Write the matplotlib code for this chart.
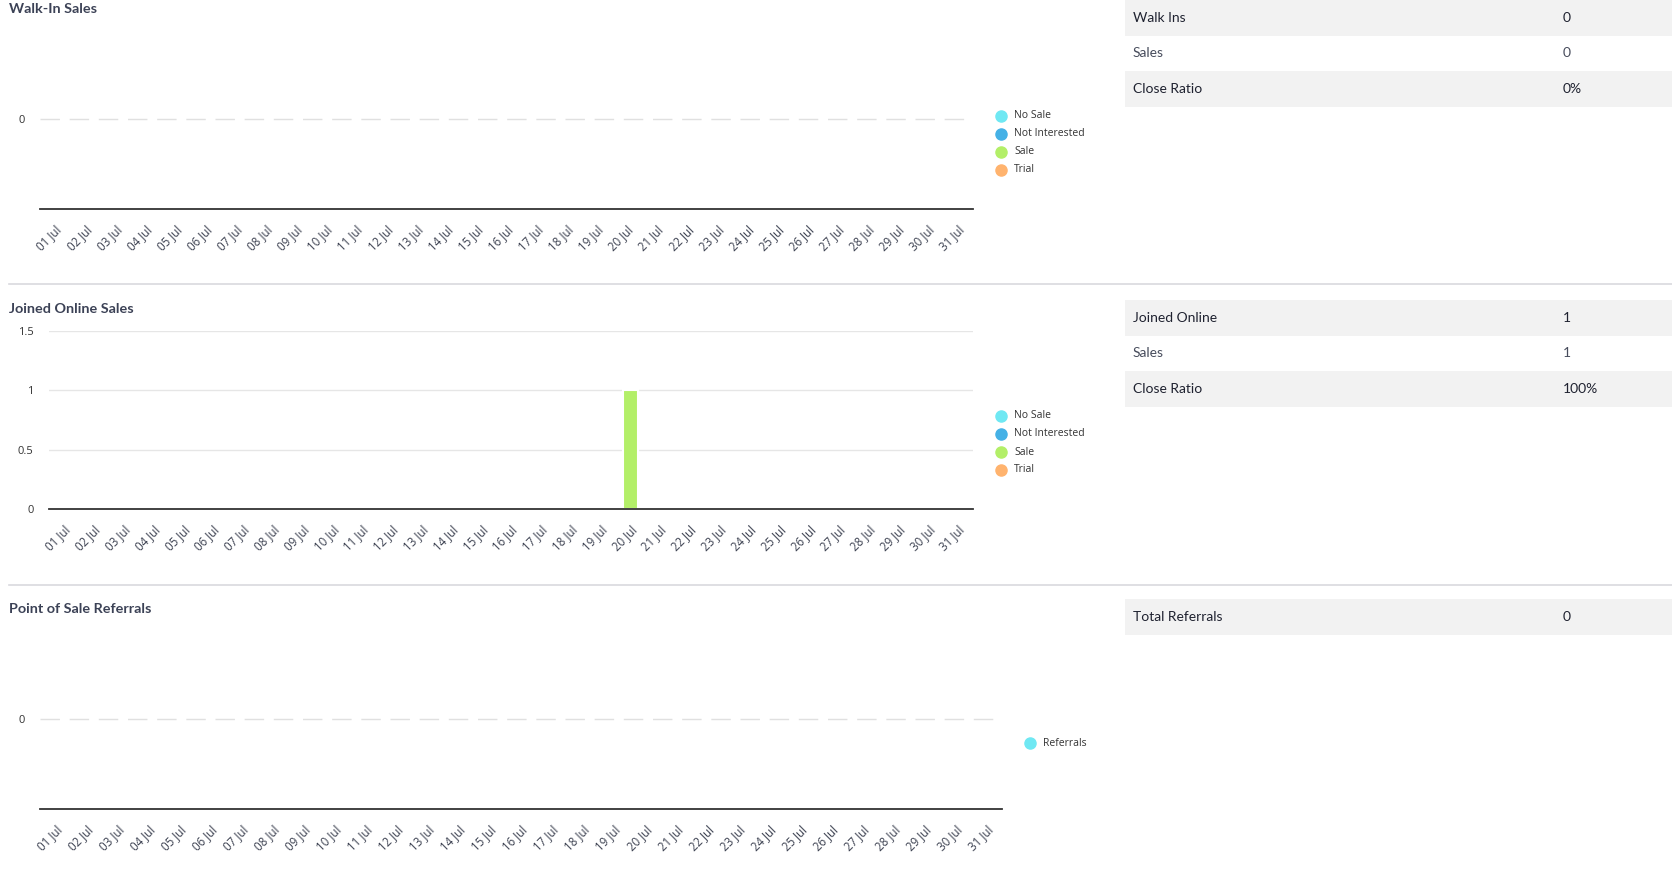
import matplotlib.pyplot as plt
from matplotlib.lines import Line2D
from matplotlib.patches import Rectangle

plt.rcParams['font.family'] = ['Lato', 'DejaVu Sans']

W, H = 1672, 883

days = ['01 Jul', '02 Jul', '03 Jul', '04 Jul', '05 Jul', '06 Jul', '07 Jul', '08 Jul',
        '09 Jul', '10 Jul', '11 Jul', '12 Jul', '13 Jul', '14 Jul', '15 Jul', '16 Jul',
        '17 Jul', '18 Jul', '19 Jul', '20 Jul', '21 Jul', '22 Jul', '23 Jul', '24 Jul',
        '25 Jul', '26 Jul', '27 Jul', '28 Jul', '29 Jul', '30 Jul', '31 Jul']

outcomes = ['No Sale', 'Not Interested', 'Sale', 'Trial']
outcome_colors = ['#6fe8f3', '#45b1e6', '#b3ef68', '#ffb36e']

walkin_no_sale = [0, 0, 0, 0, 0, 0, 0, 0, 0, 0, 0, 0, 0, 0, 0, 0, 0, 0, 0, 0, 0, 0, 0, 0, 0, 0, 0, 0, 0, 0, 0]
walkin_not_interested = [0, 0, 0, 0, 0, 0, 0, 0, 0, 0, 0, 0, 0, 0, 0, 0, 0, 0, 0, 0, 0, 0, 0, 0, 0, 0, 0, 0, 0, 0, 0]
walkin_sale = [0, 0, 0, 0, 0, 0, 0, 0, 0, 0, 0, 0, 0, 0, 0, 0, 0, 0, 0, 0, 0, 0, 0, 0, 0, 0, 0, 0, 0, 0, 0]
walkin_trial = [0, 0, 0, 0, 0, 0, 0, 0, 0, 0, 0, 0, 0, 0, 0, 0, 0, 0, 0, 0, 0, 0, 0, 0, 0, 0, 0, 0, 0, 0, 0]

online_no_sale = [0, 0, 0, 0, 0, 0, 0, 0, 0, 0, 0, 0, 0, 0, 0, 0, 0, 0, 0, 0, 0, 0, 0, 0, 0, 0, 0, 0, 0, 0, 0]
online_not_interested = [0, 0, 0, 0, 0, 0, 0, 0, 0, 0, 0, 0, 0, 0, 0, 0, 0, 0, 0, 0, 0, 0, 0, 0, 0, 0, 0, 0, 0, 0, 0]
online_sale = [0, 0, 0, 0, 0, 0, 0, 0, 0, 0, 0, 0, 0, 0, 0, 0, 0, 0, 0, 1, 0, 0, 0, 0, 0, 0, 0, 0, 0, 0, 0]
online_trial = [0, 0, 0, 0, 0, 0, 0, 0, 0, 0, 0, 0, 0, 0, 0, 0, 0, 0, 0, 0, 0, 0, 0, 0, 0, 0, 0, 0, 0, 0, 0]

referrals = [0, 0, 0, 0, 0, 0, 0, 0, 0, 0, 0, 0, 0, 0, 0, 0, 0, 0, 0, 0, 0, 0, 0, 0, 0, 0, 0, 0, 0, 0, 0]
referral_color = '#6fe8f3'

walkin_table = [('Walk Ins', '0'), ('Sales', '0'), ('Close Ratio', '0%')]
online_table = [('Joined Online', '1'), ('Sales', '1'), ('Close Ratio', '100%')]
referral_table = [('Total Referrals', '0')]

TITLE_COLOR = '#3c4256'
TICK_COLOR = '#3a3f4f'
SMALL_FONT = ['Open Sans', 'DejaVu Sans']


def fx(x):
    return x / W


def fy(y):
    return 1 - y / H


def make_axes(fig, left, right, top, bottom):
    return fig.add_axes([fx(left), fy(bottom), (right - left) / W, (bottom - top) / H])


def style_axes(ax, dashed):
    for side in ['top', 'right', 'left']:
        ax.spines[side].set_visible(False)
    ax.spines['bottom'].set_color('#333333')
    ax.spines['bottom'].set_linewidth(1.3)
    ax.spines['bottom'].set_zorder(4)
    ax.set_xlim(-0.5, len(days) - 0.5)
    ax.set_xticks(range(len(days)))
    ax.set_xticklabels(days, rotation=45, ha='right', va='top', rotation_mode='anchor',
                       fontsize=8.3, color=TICK_COLOR, family=SMALL_FONT)
    for label in ax.get_yticklabels():
        label.set_family(SMALL_FONT)
    ax.tick_params(axis='both', length=0)
    ax.tick_params(axis='x', pad=10)
    ax.tick_params(axis='y', pad=11, labelsize=8, labelcolor='#333333')
    if dashed:
        ax.yaxis.grid(True, color='#e0e0e0', linewidth=1, linestyle=(0, (14, 7)))
    else:
        ax.yaxis.grid(True, color='#e6e6e6', linewidth=1)
    ax.set_axisbelow(True)


def stacked_bars(ax, series, colors):
    bottom = [0] * len(days)
    for values, color in zip(series, colors):
        # only bars with a height get drawn, so empty days leave the grid untouched
        idx = [i for i, v in enumerate(values) if v]
        if idx:
            ax.bar(idx, [values[i] for i in idx], bottom=[bottom[i] for i in idx], width=0.5,
                   color=color, edgecolor='white', linewidth=1.5, zorder=3)
        bottom = [b + v for b, v in zip(bottom, values)]


def draw_legend(fig, labels, colors, x, y0, step=18):
    for i, (label, color) in enumerate(zip(labels, colors)):
        y = y0 + i * step
        fig.add_artist(Line2D([fx(x)], [fy(y)], marker='o', markersize=8,
                              color=color, linestyle='none'))
        fig.text(fx(x + 13), fy(y), label, fontsize=7.5, color='#333333', va='center',
                 family=SMALL_FONT)


def draw_table(fig, rows, top, row_h=35.5):
    for i, (label, value) in enumerate(rows):
        y = top + i * row_h
        color = '#1f2230'
        if i % 2 == 0:
            fig.add_artist(Rectangle((fx(1125), fy(y + row_h)), (1672 - 1125) / W, row_h / H,
                                     facecolor='#f2f2f2', edgecolor='none',
                                     transform=fig.transFigure))
        else:
            color = '#474c5c'
        fig.text(fx(1133), fy(y + row_h / 2), label, fontsize=10, color=color, va='center')
        fig.text(fx(1563), fy(y + row_h / 2), value, fontsize=10, color=color, va='center')


def divider(fig, y):
    fig.add_artist(Line2D([fx(9), fx(1672)], [fy(y), fy(y)], color='#d9d9de', linewidth=1.2))


def main():
    fig = plt.figure(figsize=(W / 100, H / 100), dpi=100)
    fig.patch.set_facecolor('white')

    # Walk-In Sales
    fig.text(fx(9), fy(9), 'Walk-In Sales', fontsize=10.4, fontweight='bold',
             color=TITLE_COLOR, va='center')
    ax1 = make_axes(fig, 40, 973, 29, 209)
    stacked_bars(ax1, [walkin_no_sale, walkin_not_interested, walkin_sale, walkin_trial],
                 outcome_colors)
    ax1.set_ylim(-1, 1)
    ax1.set_yticks([0])
    ax1.set_yticklabels(['0'])
    style_axes(ax1, dashed=True)
    draw_legend(fig, outcomes, outcome_colors, 1001, 116)
    draw_table(fig, walkin_table, 0)
    divider(fig, 284)

    # Joined Online Sales
    fig.text(fx(9), fy(309), 'Joined Online Sales', fontsize=10.4, fontweight='bold',
             color=TITLE_COLOR, va='center')
    ax2 = make_axes(fig, 49, 973, 331, 509)
    stacked_bars(ax2, [online_no_sale, online_not_interested, online_sale, online_trial],
                 outcome_colors)
    ax2.set_ylim(0, 1.5)
    ax2.set_yticks([0, 0.5, 1, 1.5])
    ax2.set_yticklabels(['0', '0.5', '1', '1.5'])
    style_axes(ax2, dashed=False)
    draw_legend(fig, outcomes, outcome_colors, 1001, 416)
    draw_table(fig, online_table, 300)
    divider(fig, 585)

    # Point of Sale Referrals
    fig.text(fx(9), fy(609), 'Point of Sale Referrals', fontsize=10.4, fontweight='bold',
             color=TITLE_COLOR, va='center')
    ax3 = make_axes(fig, 40, 1002, 629, 809)
    stacked_bars(ax3, [referrals], [referral_color])
    ax3.set_ylim(-1, 1)
    ax3.set_yticks([0])
    ax3.set_yticklabels(['0'])
    style_axes(ax3, dashed=True)
    draw_legend(fig, ['Referrals'], [referral_color], 1030, 743)
    draw_table(fig, referral_table, 599)

    fig.savefig('out.png', dpi=100)


if __name__ == '__main__':
    main()
